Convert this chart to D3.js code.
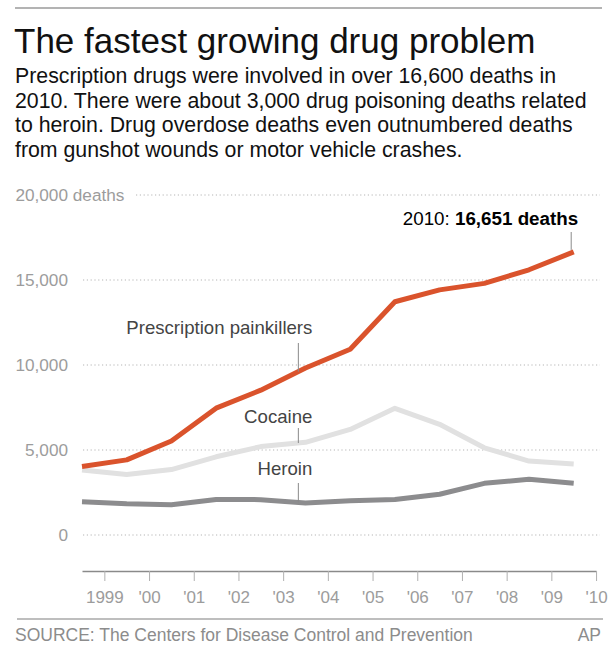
<!DOCTYPE html>
<html>
<head>
<meta charset="utf-8">
<script src="https://cdn.jsdelivr.net/npm/d3@7"></script>
<style>
  html, body { margin: 0; padding: 0; background: #fff; }
  svg { display: block; font-family: "Liberation Sans", Arial, sans-serif; }
</style>
</head>
<body>
<svg id="chart" width="615" height="655"></svg>
<script>
// ---- Data ----
const years = [1999, 2000, 2001, 2002, 2003, 2004, 2005, 2006, 2007, 2008, 2009, 2010];
const painkillers = [4030, 4420, 5530, 7460, 8520, 9820, 10930, 13720, 14420, 14800, 15600, 16651];
const cocaine = [3820, 3560, 3850, 4600, 5200, 5450, 6210, 7450, 6510, 5130, 4350, 4180];
const heroin = [1960, 1840, 1780, 2090, 2080, 1880, 2010, 2090, 2400, 3040, 3280, 3040];
const yTicks = [0, 5000, 10000, 15000, 20000];
const yTickLabels = ["0", "5,000", "10,000", "15,000", "20,000"];
const xTickLabels = ["1999", "'00", "'01", "'02", "'03", "'04", "'05", "'06", "'07", "'08", "'09", "'10"];
const titleText = "The fastest growing drug problem";
const subtitleLines = [
  "Prescription drugs were involved in over 16,600 deaths in",
  "2010. There were about 3,000 drug poisoning deaths related",
  "to heroin. Drug overdose deaths even outnumbered deaths",
  "from gunshot wounds or motor vehicle crashes."
];
const sourceText = "SOURCE: The Centers for Disease Control and Prevention";
const creditText = "AP";

const series = [
  { name: "Heroin", values: heroin, color: "#8c8c8e" },
  { name: "Cocaine", values: cocaine, color: "#e1e1e1" },
  { name: "Prescription painkillers", values: painkillers, color: "#da532c" }
];

// ---- Setup ----
const svg = d3.select("#chart");
svg.append("rect").attr("width", 615).attr("height", 655).attr("fill", "#fff");

const x = d3.scaleLinear().domain([1999, 2010.5]).range([82, 596.05]);
const y = d3.scaleLinear().domain([0, 20000]).range([535, 195]);

// top rule
svg.append("line").attr("x1", 15).attr("x2", 602).attr("y1", 8).attr("y2", 8)
  .attr("stroke", "#9a9a9a").attr("stroke-width", 1.5);

// title
svg.append("text").attr("x", 14).attr("y", 53)
  .attr("font-size", 35).attr("fill", "#111").text(titleText);

svg.append("g").selectAll("text").data(subtitleLines).join("text")
  .attr("x", 15).attr("y", (d, i) => 83 + i * 24.6)
  .attr("font-size", 21.3).attr("fill", "#111").text(d => d);

// gridlines
const grid = svg.append("g");
grid.selectAll("line").data(yTicks).join("line")
  .attr("x1", d => d === 20000 ? 136 : 83)
  .attr("x2", 600)
  .attr("y1", d => y(d)).attr("y2", d => y(d))
  .attr("stroke", "#b5b5b5").attr("stroke-width", 1)
  .attr("stroke-dasharray", "1.2,2.6");

// y labels
const yl = svg.append("g");
yl.selectAll("text").data(yTicks).join("text")
  .attr("x", 68).attr("y", d => y(d) + 6)
  .attr("text-anchor", "end")
  .attr("font-size", 17.2).attr("fill", "#9c9c9c")
  .text((d, i) => yTickLabels[i]);
yl.append("text").attr("x", 68).attr("y", y(20000) + 6)
  .attr("font-size", 17.2).attr("fill", "#9c9c9c").text(" deaths")
  .attr("xml:space", "preserve").attr("dx", 0);

// x axis
const xAxis = d3.axisBottom(x)
  .tickValues(years.map(d => d + 0.5))
  .tickFormat((d, i) => xTickLabels[i])
  .tickSizeInner(10).tickSizeOuter(0);
const gx = svg.append("g").attr("transform", "translate(0,571)").call(xAxis);
gx.select(".domain").attr("stroke", "#8a8a8a").attr("stroke-width", 1.5);
gx.selectAll(".tick line").attr("stroke", "#b0b0b0").attr("stroke-width", 1);
gx.selectAll(".tick text").attr("y", 20).attr("dy", "0.71em")
  .attr("font-size", 17).attr("fill", "#9c9c9c")
  .attr("font-family", "'Liberation Sans', Arial, sans-serif");

// lines
const line = d3.line().x((d, i) => x(years[i])).y(d => y(d));
svg.append("g").selectAll("path").data(series).join("path")
  .attr("d", d => line(d.values))
  .attr("fill", "none")
  .attr("stroke", d => d.color)
  .attr("stroke-width", 5)
  .attr("stroke-linejoin", "round");

// interpolation helper for label ticks
function valueAt(vals, yr) {
  const i = Math.floor(yr - 1999);
  const t = yr - 1999 - i;
  return vals[i] + (vals[Math.min(i + 1, vals.length - 1)] - vals[i]) * t;
}

// annotations
const labelYear = 2003.84;
const ann = [
  { text: "Prescription painkillers", vals: painkillers, ty: 333.5, top: 343 },
  { text: "Cocaine", vals: cocaine, ty: 423, top: 428 },
  { text: "Heroin", vals: heroin, ty: 475, top: 483 }
];
const ga = svg.append("g");
ann.forEach(a => {
  ga.append("text").attr("x", x(labelYear) + 14).attr("y", a.ty)
    .attr("text-anchor", "end").attr("font-size", 18.6).attr("fill", "#444")
    .text(a.text);
  ga.append("line").attr("x1", x(labelYear)).attr("x2", x(labelYear))
    .attr("y1", a.top).attr("y2", y(valueAt(a.vals, labelYear)))
    .attr("stroke", "#8a8a8a").attr("stroke-width", 1);
});

// 2010 callout
const lastYear = years[years.length - 1];
const lastVal = painkillers[painkillers.length - 1];
const cx = x(lastYear) - 2.5;
ga.append("line").attr("x1", cx).attr("x2", cx)
  .attr("y1", 232).attr("y2", y(lastVal) - 2)
  .attr("stroke", "#8a8a8a").attr("stroke-width", 1);
const callout = ga.append("text").attr("x", cx + 7).attr("y", 225)
  .attr("text-anchor", "end").attr("font-size", 18.8).attr("fill", "#000");
callout.append("tspan").text(lastYear + ": ");
callout.append("tspan").attr("font-weight", "bold").text(d3.format(",")(lastVal) + " deaths");

// footer
svg.append("line").attr("x1", 17).attr("x2", 603).attr("y1", 619).attr("y2", 619)
  .attr("stroke", "#a8a8a8").attr("stroke-width", 1.5);
svg.append("text").attr("x", 15).attr("y", 641)
  .attr("font-size", 17.5).attr("fill", "#8c8c8c").text(sourceText);
svg.append("text").attr("x", 601).attr("y", 641).attr("text-anchor", "end")
  .attr("font-size", 17.5).attr("fill", "#8c8c8c").text(creditText);
</script>
</body>
</html>
